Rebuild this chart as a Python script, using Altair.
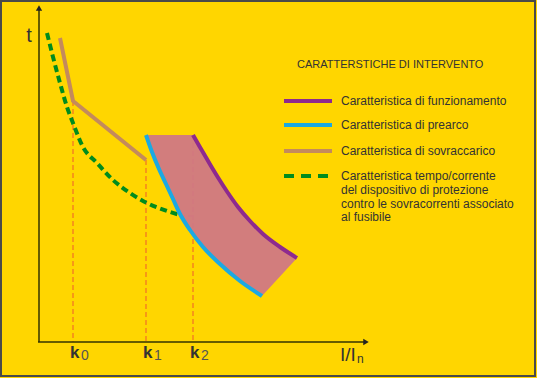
import altair as alt
import pandas as pd

W, H = 537, 378

# ---- values read from the schematic (coordinate units of the drawing) ----
overload_x = [60, 73, 146]
overload_y = [38, 101, 160]

protect_x = [47, 53, 60, 67, 73, 83, 97, 113, 130, 147, 167, 180]
protect_y = [33, 57, 83, 107, 123, 147, 163, 180, 193, 203, 211, 215]

prearc_x = [146, 152, 159, 166, 173, 180, 190, 203, 220, 240, 262]
prearc_y = [135, 152, 169, 184, 199, 214, 230, 247, 264, 281, 296]

oper_x = [193, 199, 205, 211, 218, 227, 238, 250, 263, 280, 297]
oper_y = [135, 145.5, 155.8, 166, 177.5, 191.5, 207, 221, 234, 247, 258]

k_x = [73, 146, 193]
k_top = [101, 160, 135]
k_subs = ["0", "1", "2"]

axis_origin = (39, 342)
axis_x_end = 366
axis_y_end = 8

legend_title = "CARATTERSTICHE DI INTERVENTO"
legend_items = ["Caratteristica di funzionamento", "Caratteristica di prearco",
                "Caratteristica di sovraccarico"]
legend_colors = ["#8E2A8E", "#1BA9E3", "#C48A5C"]
legend_y = [101, 125, 151]
green_label = ["Caratteristica tempo/corrente", "del dispositivo di protezione",
               "contro le sovracorrenti associato", "al fusibile"]
green_label_y = [176, 189.5, 203.5, 217]

BG = "#FFD600"
TXT = "#333333"
FONT = "Liberation Sans"

xs = alt.Scale(domain=[0, W], nice=False, zero=False)
ys = alt.Scale(domain=[0, H], nice=False, zero=False, reverse=True)


def X(f="x"):
    return alt.X(f"{f}:Q", scale=xs, axis=None)


def Y(f="y"):
    return alt.Y(f"{f}:Q", scale=ys, axis=None)


def curve(xv, yv):
    return pd.DataFrame({"x": xv, "y": yv, "i": range(len(xv))})


layers = []

# border
layers.append(alt.Chart(pd.DataFrame({"x": [1], "x2": [535], "y": [1], "y2": [376]}))
              .mark_rect(fillOpacity=0, stroke="#4a4a4a", strokeWidth=2)
              .encode(x=X(), x2="x2:Q", y=Y(), y2="y2:Q"))

# dashed orange verticals
layers.append(alt.Chart(pd.DataFrame({"x": k_x, "y": k_top, "y2": [axis_origin[1]] * 3}))
              .mark_rule(color="#F5841F", strokeWidth=1.5, strokeDash=[5, 3])
              .encode(x=X(), y=Y(), y2="y2:Q"))
layers.append(alt.Chart(pd.DataFrame({"x": [protect_x[-1]], "x2": [k_x[2]], "y": [protect_y[-1] + 1]}))
              .mark_rule(color="#F5841F", strokeWidth=1.5, strokeDash=[5, 3])
              .encode(x=X(), x2="x2:Q", y=Y()))

# green dashed protection curve
layers.append(alt.Chart(curve(protect_x, protect_y))
              .mark_line(color="#008C1E", strokeWidth=4, strokeDash=[7, 4], interpolate="monotone")
              .encode(x=X(), y=Y(), order="i:Q"))

# overload
layers.append(alt.Chart(curve(overload_x, overload_y))
              .mark_line(color=legend_colors[2], strokeWidth=4)
              .encode(x=X(), y=Y(), order="i:Q"))

# band polygon
band_x = [prearc_x[0]] + oper_x + prearc_x[::-1]
band_y = [prearc_y[0]] + oper_y + prearc_y[::-1]
layers.append(alt.Chart(curve(band_x, band_y))
              .mark_line(fill="#CF7687", fillOpacity=0.93, strokeWidth=0, interpolate="linear-closed")
              .encode(x=X(), y=Y(), order="i:Q"))

layers.append(alt.Chart(curve(prearc_x, prearc_y))
              .mark_line(color=legend_colors[1], strokeWidth=4, interpolate="monotone")
              .encode(x=X(), y=Y(), order="i:Q"))
layers.append(alt.Chart(curve(oper_x, oper_y))
              .mark_line(color=legend_colors[0], strokeWidth=4, interpolate="monotone")
              .encode(x=X(), y=Y(), order="i:Q"))

# axes
layers.append(alt.Chart(pd.DataFrame({"x": [axis_origin[0], axis_origin[0] - 1],
                                      "x2": [axis_origin[0], axis_x_end],
                                      "y": [axis_origin[1], axis_origin[1]],
                                      "y2": [axis_y_end, axis_origin[1]]}))
              .mark_rule(color="#333300", strokeWidth=1.5)
              .encode(x=X(), x2="x2:Q", y=Y(), y2="y2:Q"))
layers.append(alt.Chart(pd.DataFrame({"x": [axis_origin[0]], "y": [axis_y_end]}))
              .mark_point(shape="triangle-up", filled=True, color="#222", size=40, opacity=1)
              .encode(x=X(), y=Y()))
layers.append(alt.Chart(pd.DataFrame({"x": [axis_x_end], "y": [axis_origin[1]]}))
              .mark_point(shape="triangle-right", filled=True, color="#222", size=40, opacity=1)
              .encode(x=X(), y=Y()))

# axis labels
layers.append(alt.Chart(pd.DataFrame({"x": [29], "y": [36], "t": ["t"]}))
              .mark_text(font=FONT, fontSize=20, color=TXT, align="center", baseline="middle")
              .encode(x=X(), y=Y(), text="t:N"))
layers.append(alt.Chart(pd.DataFrame({"x": [340], "y": [355], "t": ["I/I"]}))
              .mark_text(font=FONT, fontSize=19, color=TXT, align="left", baseline="middle")
              .encode(x=X(), y=Y(), text="t:N"))
layers.append(alt.Chart(pd.DataFrame({"x": [357], "y": [359], "t": ["n"]}))
              .mark_text(font=FONT, fontSize=12, color=TXT, align="left", baseline="middle")
              .encode(x=X(), y=Y(), text="t:N"))
layers.append(alt.Chart(pd.DataFrame({"x": [k - 3 for k in k_x], "y": [353] * 3, "t": ["k"] * 3}))
              .mark_text(font=FONT, fontSize=17, fontWeight="bold", color=TXT, align="left", baseline="middle")
              .encode(x=X(), y=Y(), text="t:N"))
layers.append(alt.Chart(pd.DataFrame({"x": [k + 8 for k in k_x], "y": [356] * 3, "t": k_subs}))
              .mark_text(font=FONT, fontSize=14, color="#555", align="left", baseline="middle")
              .encode(x=X(), y=Y(), text="t:N"))

# legend
layers.append(alt.Chart(pd.DataFrame({"x": [297], "y": [65], "t": [legend_title]}))
              .mark_text(font=FONT, fontSize=11, color=TXT, align="left", baseline="middle")
              .encode(x=X(), y=Y(), text="t:N"))
leg = pd.DataFrame({"x": [284] * 3, "x2": [332] * 3, "y": legend_y, "c": legend_colors, "t": legend_items})
layers.append(alt.Chart(leg).mark_rule(strokeWidth=4)
              .encode(x=X(), x2="x2:Q", y=Y(), color=alt.Color("c:N", scale=None)))
layers.append(alt.Chart(leg).mark_text(font=FONT, fontSize=12, color=TXT, align="left", baseline="middle")
              .encode(x=alt.value(341), y=Y(), text="t:N"))
layers.append(alt.Chart(pd.DataFrame({"x": [284], "x2": [332], "y": [green_label_y[0]]}))
              .mark_rule(strokeWidth=4, color="#008C1E", strokeDash=[10, 7])
              .encode(x=X(), x2="x2:Q", y=Y()))
layers.append(alt.Chart(pd.DataFrame({"y": green_label_y, "t": green_label}))
              .mark_text(font=FONT, fontSize=12, color=TXT, align="left", baseline="middle")
              .encode(x=alt.value(341), y=Y(), text="t:N"))

chart = (alt.layer(*layers)
         .properties(width=W, height=H, padding=0, autosize="none", background=BG)
         .configure_view(strokeWidth=0))

chart.save("out.html", embed_options={"renderer": "svg", "actions": False})
